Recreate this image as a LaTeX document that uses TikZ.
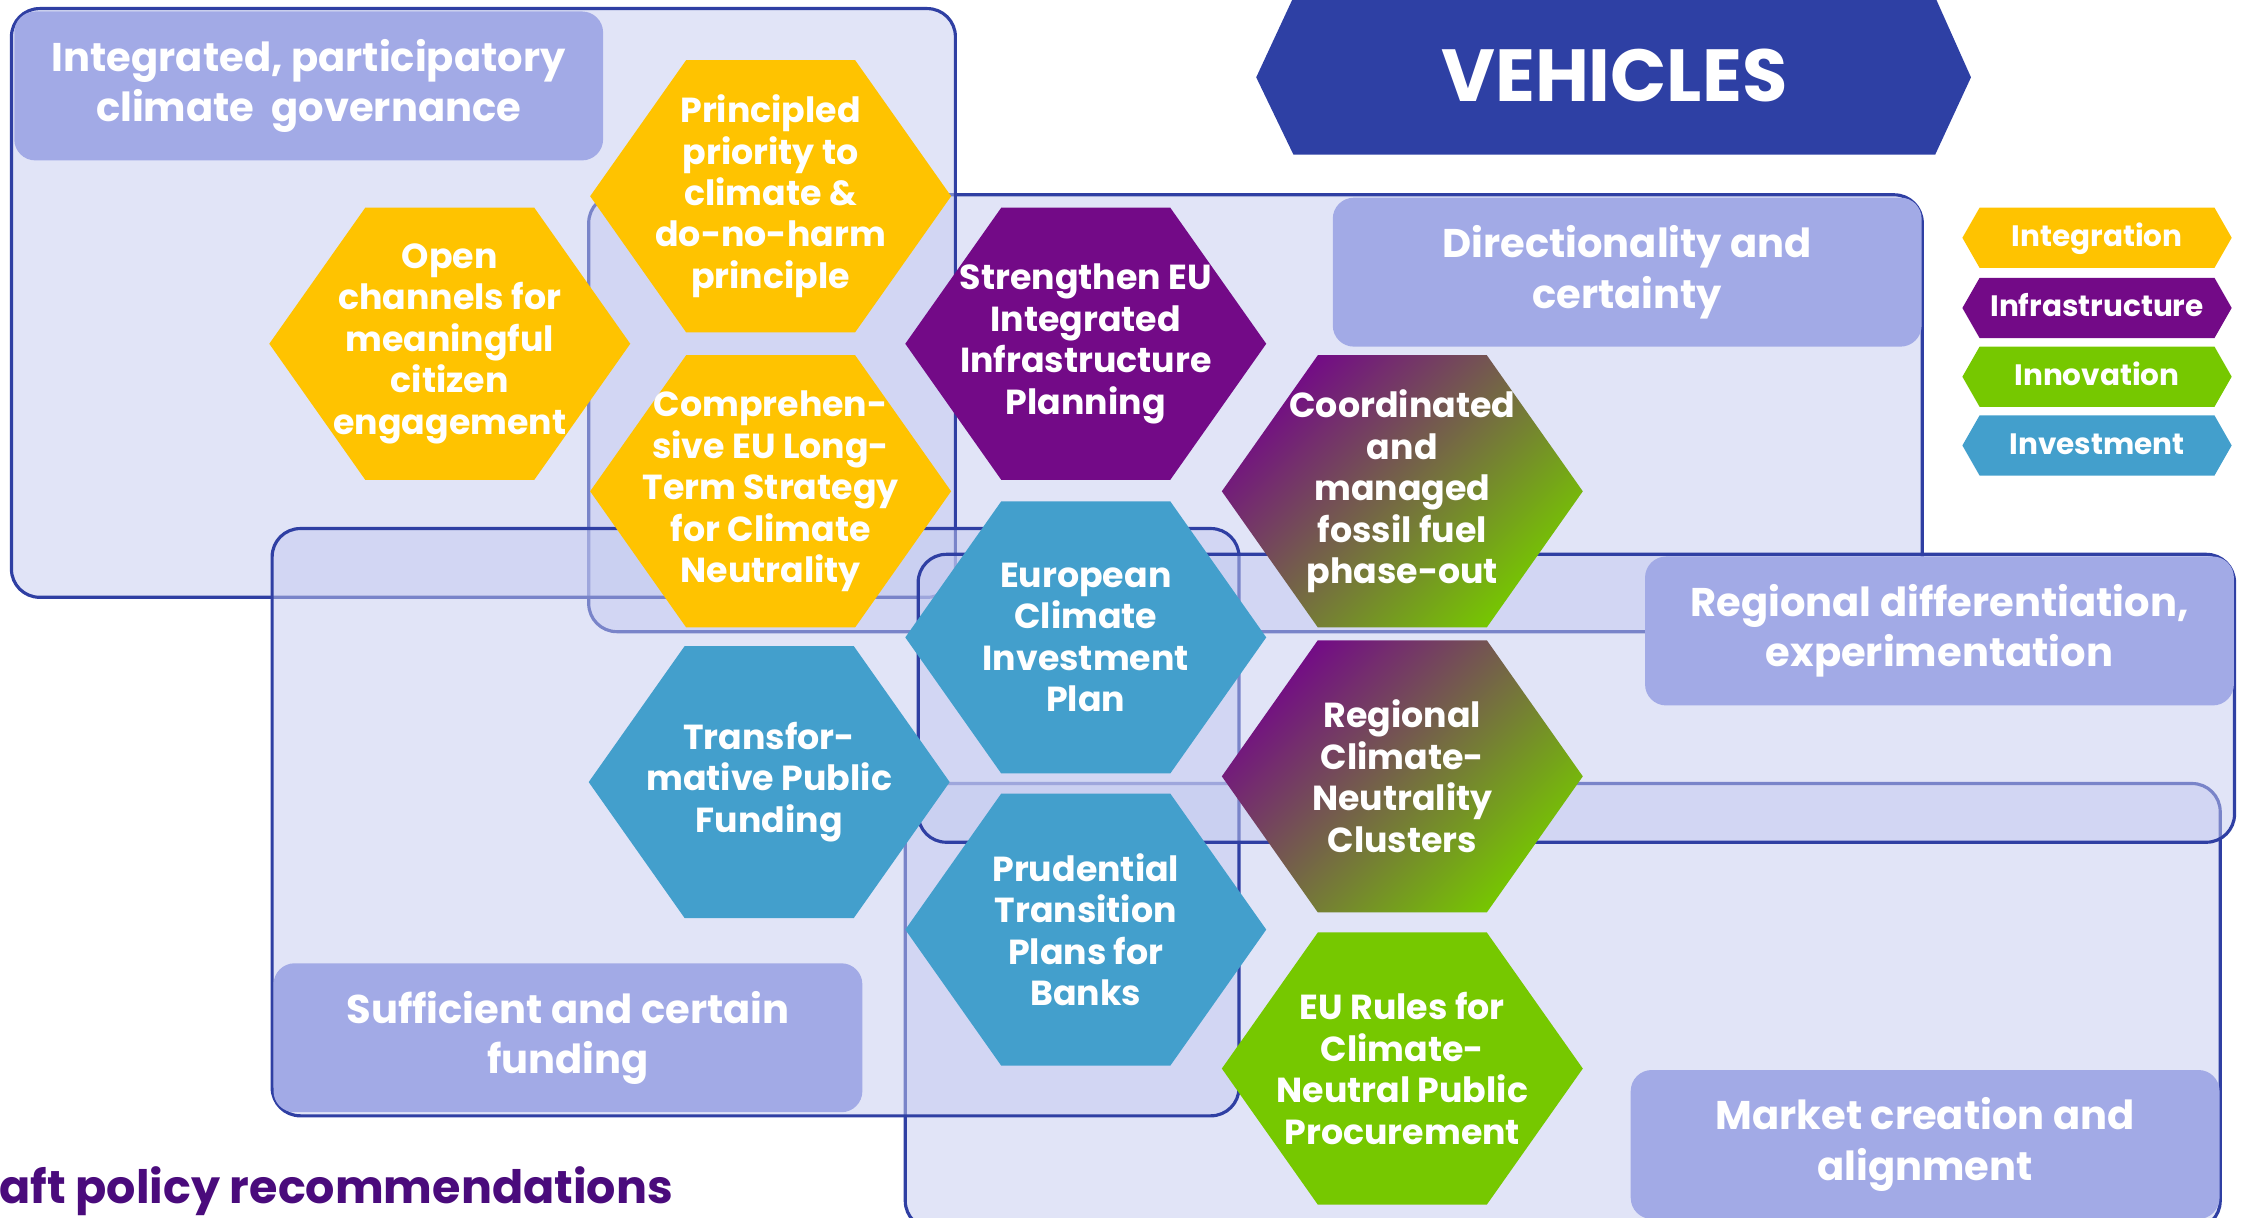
\documentclass[tikz,border=0pt]{standalone}
\usepackage{fontspec}
\setmainfont{Poppins}
\definecolor{hexyellow}{HTML}{FFC300}
\definecolor{hexpurple}{HTML}{730A87}
\definecolor{hexgreen}{HTML}{76C800}
\definecolor{hexblue}{HTML}{439FCC}
\definecolor{labelfill}{HTML}{A2AAE6}
\definecolor{regionfill}{HTML}{C3C9EF}
\definecolor{regionline}{HTML}{2F3FA3}
\definecolor{bannerblue}{HTML}{2E40A4}
\definecolor{titlepurple}{HTML}{4A0B7C}
\tikzstyle{region}=[draw=regionline,line width=0.9pt,fill=regionfill,fill opacity=0.5,rounded corners=8pt]
\tikzstyle{labelbox}=[fill=labelfill,rounded corners=6pt,minimum width=5.89cm,minimum height=1.49cm,
  text=white,align=center,font=\fontsize{11.4}{14.4}\selectfont\bfseries]
\tikzstyle{hextext}=[text=white,align=center,font=\fontsize{9.9}{11.8}\selectfont\bfseries]
\tikzstyle{keytext}=[text=white,text height=7pt,text depth=2pt,font=\fontsize{8.4}{10}\selectfont\bfseries]
\tikzstyle{gradhex}=[top color=hexpurple,bottom color=hexgreen,shading angle=45]

% hexagon cell: name, centre, fill, text
\newcommand{\hexcell}[4]{%
  \path[#3,shift={(#2)}] (-126,0) -- (-59,-95) -- (59,-95) -- (126,0) -- (59,95) -- (-59,95) -- cycle;
  \node[hextext] (#1) at (#2) {#4};}
% legend cell: name, centre, colour, text
\newcommand{\keycell}[4]{%
  \path[fill=#3,shift={(#2)}] (-94,0) -- (-82,-21) -- (82,-21) -- (94,0) -- (82,21) -- (-82,21) -- cycle;
  \node[keytext] (#1) at (#2) {#4};}

\begin{document}
\begin{tikzpicture}[x=0.014324cm,y=-0.014324cm]
    \useasboundingbox (0,0) rectangle (1568,850);
    \clip (0,0) rectangle (1568,850);
    % regions
    \path[region] (411,136) rectangle (1342,441);
    \path[region] (8,6) rectangle (667,417);
    \path[region] (632,547) rectangle (1550,858);
    \path[region] (190,369) rectangle (865,779);
    \path[region] (641,387) rectangle (1560,588);
    % region labels
    \node[labelbox] (govern) at (215.5,60) {Integrated, participatory\\climate\ \ governance};
    \node[labelbox] (direct) at (1136,190) {Directionality and\\certainty};
    \node[labelbox] (regdiff) at (1354,440.5) {Regional differentiation,\\experimentation};
    \node[labelbox] (funding) at (396.5,724.5) {Sufficient and certain\\funding};
    \node[labelbox] (market) at (1344,799) {Market creation and\\alignment};
    % banner
    \path[fill=bannerblue] (877,54) -- (903,-2) -- (1351,-2) -- (1376,54) -- (1351,108) -- (903,108) -- cycle;
    \node[text=white,font=\fontsize{21}{24}\selectfont\bfseries] (vehicles) at (1127,53) {VEHICLES};
    % hexagons
    \hexcell{open}{314,240}{fill=hexyellow}{Open\\channels for\\meaningful\\citizen\\engagement}
    \hexcell{princ}{538,137}{fill=hexyellow}{Principled\\priority to\\climate \&\\do-no-harm\\principle}
    \hexcell{compr}{538,343}{fill=hexyellow}{Comprehen-\\sive EU Long-\\Term Strategy\\for Climate\\Neutrality}
    \hexcell{infra}{758,240}{fill=hexpurple}{Strengthen EU\\Integrated\\Infrastructure\\Planning}
    \hexcell{ecip}{758,445}{fill=hexblue}{European\\Climate\\Investment\\Plan}
    \hexcell{pubfund}{537,546}{fill=hexblue}{Transfor-\\mative Public\\Funding}
    \hexcell{banks}{758,649}{fill=hexblue}{Prudential\\Transition\\Plans for\\Banks}
    \hexcell{fossil}{979,343}{gradhex}{Coordinated\\and\\managed\\fossil fuel\\phase-out}
    \hexcell{clusters}{979,542}{gradhex}{Regional\\Climate-\\Neutrality\\Clusters}
    \hexcell{procure}{979,746}{fill=hexgreen}{EU Rules for\\Climate-\\Neutral Public\\Procurement}
    % legend
    \keycell{kint}{1464,166}{hexyellow}{Integration}
    \keycell{kinf}{1464,215}{hexpurple}{Infrastructure}
    \keycell{kinn}{1464,263}{hexgreen}{Innovation}
    \keycell{kinv}{1464,311}{hexblue}{Investment}
    % caption
    \node[anchor=base west,inner sep=0pt,text=titlepurple,font=\fontsize{13.1}{15}\selectfont\bfseries] (draft) at (-1,840) {aft policy recommendations};
\end{tikzpicture}
\end{document}
